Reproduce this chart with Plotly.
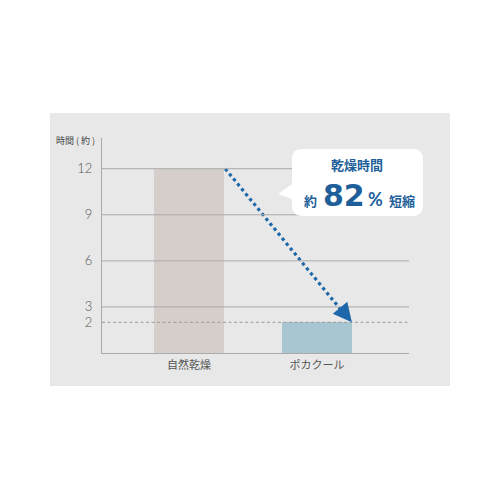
import plotly.graph_objects as go

# data
categories = ["自然乾燥", "ポカクール"]
hours = [12, 2]
grid_ticks = [3, 6, 9, 12]
ref_tick = 2
reduction_pct = 82

BAR_COLORS = ["#d6cecb", "#a7c6d2"]
BLUE = "#1d68aa"
TEXT_BLUE = "#1e5f9a"
GRAY_TEXT = "#555555"
JP_FONT = "Noto Sans CJK JP"

# page has an 8px body margin, so figure pixels = page pixels - 8
OFF = 8
L, R, T, B = 102, 409, 138, 353  # plot area in page pixels
W, H = R - L, B - T


def px_x(p):
  return (p - L) / W


def px_y(p):
  return (B - p) / H


bar_w = 0.547
y_range = [0, 14]
x_range = [-0.68, 1.72]

fig = go.Figure()
fig.add_trace(
  go.Bar(
    x=[0, 1],
    y=hours,
    width=bar_w,
    marker=dict(color=BAR_COLORS, line=dict(width=0)),
    hoverinfo="skip",
  )
)

# grid lines drawn above the bars, as in the reference
for v in grid_ticks:
  fig.add_hline(y=v, line=dict(color="#a9a9a9", width=1), layer="above")
fig.add_hline(y=ref_tick, line=dict(color="#9a9a9a", width=1, dash="3px,2.5px"), layer="above")

# dotted arrow from top of first bar to top of second bar
fig.add_trace(
  go.Scatter(
    x=[0 + bar_w / 2 + 0.01, 1 + bar_w / 2 - 0.06],
    y=[hours[0], hours[1] + 0.55],
    mode="lines",
    line=dict(color=BLUE, width=3.2, dash="dot"),
    hoverinfo="skip",
  )
)
fig.add_annotation(
  x=1 + bar_w / 2,
  y=hours[1],
  xref="x",
  yref="y",
  ax=-9,
  ay=-11,
  text="",
  showarrow=True,
  arrowhead=2,
  arrowsize=1.25,
  arrowwidth=3,
  arrowcolor=BLUE,
  standoff=0,
)

# light gray panel behind the chart
fig.add_shape(
  type="rect",
  xref="paper",
  yref="paper",
  x0=px_x(50),
  x1=px_x(450),
  y0=px_y(386),
  y1=px_y(113),
  fillcolor="#e8e8e8",
  line=dict(width=0),
  layer="below",
)

# callout bubble
bx0, bx1, by0, by1, r = 292, 423, 149, 216, 10
pts = [
  ("M", bx0 + r, by0),
  ("L", bx1 - r, by0),
  ("Q", bx1, by0, bx1, by0 + r),
  ("L", bx1, by1 - r),
  ("Q", bx1, by1, bx1 - r, by1),
  ("L", bx0 + r, by1),
  ("Q", bx0, by1, bx0, by1 - r),
  ("L", bx0, 199),
  ("L", 278, 194),
  ("L", bx0, 184),
  ("L", bx0, by0 + r),
  ("Q", bx0, by0, bx0 + r, by0),
]
path = ""
for p in pts:
  cmd, coords = p[0], p[1:]
  parts = []
  for i in range(0, len(coords), 2):
    parts.append(f"{px_x(coords[i]):.4f},{px_y(coords[i + 1]):.4f}")
  path += cmd + " ".join(parts) + " "
fig.add_shape(
  type="path",
  xref="paper",
  yref="paper",
  path=path + "Z",
  fillcolor="white",
  line=dict(width=0),
)


def callout_text(text, x, y, size, family=JP_FONT, weight="bold"):
  fig.add_annotation(
    xref="paper",
    yref="paper",
    x=px_x(x),
    y=px_y(y),
    xanchor="center",
    yanchor="middle",
    text=text,
    showarrow=False,
    font=dict(family=family, size=size, color=TEXT_BLUE, weight=weight),
  )


callout_text("乾燥時間", 357, 164, 13)
callout_text("約", 310, 200, 13)
callout_text(str(reduction_pct), 344, 195, 30, family="DejaVu Sans")
callout_text("%", 375, 199, 18, family="Lato, Inter")
callout_text("短縮", 402, 200, 13)

# axis title
fig.add_annotation(
  xref="paper",
  yref="paper",
  x=px_x(97),
  y=px_y(140),
  xanchor="right",
  yanchor="middle",
  text="時間 ( 約 )",
  showarrow=False,
  font=dict(family=JP_FONT, size=9, color="#444444"),
)

tick_font = dict(family="Lato, Noto Sans", size=13, color=GRAY_TEXT, weight=300)
fig.update_layout(
  width=500 - OFF,
  height=500 - OFF,
  margin=dict(l=L - OFF, r=500 - R, t=T - OFF, b=500 - B),
  paper_bgcolor="white",
  plot_bgcolor="rgba(0,0,0,0)",
  showlegend=False,
  bargap=0,
  xaxis=dict(
    range=x_range,
    tickvals=[0, 1],
    ticktext=categories,
    showgrid=False,
    zeroline=False,
    showline=True,
    linecolor="#aaaaaa",
    linewidth=1,
    ticks="outside",
    ticklen=2,
    tickcolor="rgba(0,0,0,0)",
    tickfont=dict(family=JP_FONT, size=11, color=GRAY_TEXT),
    fixedrange=True,
  ),
  yaxis=dict(
    range=y_range,
    tickvals=[ref_tick] + grid_ticks,
    showgrid=False,
    zeroline=False,
    showline=True,
    linecolor="#aaaaaa",
    linewidth=1,
    ticks="outside",
    ticklen=6,
    tickcolor="rgba(0,0,0,0)",
    tickfont=tick_font,
    fixedrange=True,
  ),
)

fig.write_html("out.html")
